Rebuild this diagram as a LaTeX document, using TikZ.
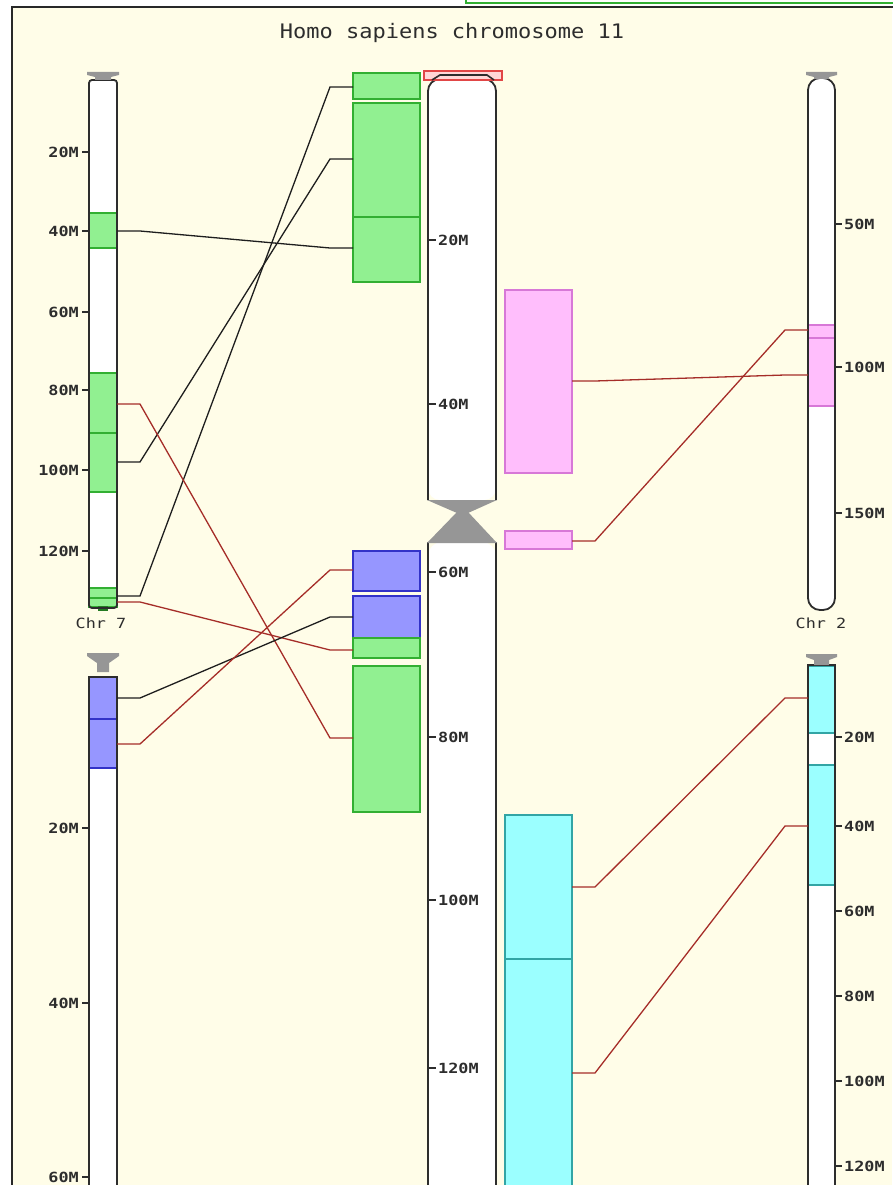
\documentclass[tikz,border=0pt]{standalone}
\usepackage{fontspec}
\newfontfamily\titlefont[FakeStretch=1.1]{DejaVu Sans Mono}
\newfontfamily\tickfont[FakeStretch=1.2]{DejaVu Sans Mono Bold}
\newfontfamily\chrfont[FakeStretch=1.2]{DejaVu Sans Mono}
\usetikzlibrary{calc}

\definecolor{bg}{RGB}{255,253,232}
\definecolor{frame}{RGB}{40,40,40}
\definecolor{chrdark}{RGB}{45,45,45}
\definecolor{capgray}{RGB}{150,150,150}
\definecolor{gfill}{RGB}{145,240,145}
\definecolor{gline}{RGB}{50,175,50}
\definecolor{bfill}{RGB}{150,150,255}
\definecolor{bline}{RGB}{50,50,200}
\definecolor{pfill}{RGB}{255,190,252}
\definecolor{pline}{RGB}{215,120,215}
\definecolor{cfill}{RGB}{155,255,255}
\definecolor{cline}{RGB}{50,165,165}
\definecolor{linkred}{RGB}{165,45,40}
\definecolor{linkblack}{RGB}{30,30,30}
\definecolor{topred}{RGB}{225,70,70}
\definecolor{toppink}{RGB}{255,215,215}

\tikzset{
  chrom/.style={draw=none, fill=none, inner sep=0, outer sep=0, anchor=north west},
  chrline/.style={draw=chrdark, line width=1.8pt},
  band/.style={inner sep=0, outer sep=0, anchor=north west, line width=1.2pt},
  gband/.style={band, fill=gfill, draw=gline},
  bband/.style={band, fill=bfill, draw=bline},
  pband/.style={band, fill=pfill, draw=pline},
  cband/.style={band, fill=cfill, draw=cline},
  blacklink/.style={draw=linkblack, line width=1.3pt},
  redlink/.style={draw=linkred, line width=1.3pt},
  ticklbl/.style={font=\tickfont\fontsize{14}{16}\selectfont, text=chrdark, inner sep=0},
  chrlbl/.style={font=\chrfont\fontsize{14}{16}\selectfont, text=chrdark, inner sep=0},
  tickmark/.style={draw=chrdark, line width=1.2pt},
}

% block node from (x1,y1) to (x2,y2), y growing downwards
\newcommand\blk[6]{\node[#2, minimum width={#5-#3}, minimum height={#6-#4}] (#1) at (#3,#4) {};}
% connector: style, left node, y on it, right node, y on it
\newcommand\lnk[5]{%
  \coordinate (#2-#3) at (#2.east |- 0,#3);
  \coordinate (#4-#5) at (#4.west |- 0,#5);
  \draw[#1] (#2-#3) -- ++(23,0) -- ([xshift=-23pt]#4-#5) -- (#4-#5);}
% scale ticks: name, y, label
\newcommand\tickL[3]{\draw[tickmark] (82,#2) -- (89,#2);
  \node[ticklbl, anchor=east] (#1) at (79,#2) {#3};}
\newcommand\tickC[3]{\draw[tickmark] (429,#2) -- (436,#2);
  \node[ticklbl, anchor=west] (#1) at (438,#2) {#3};}
\newcommand\tickR[3]{\draw[tickmark] (835,#2) -- (842,#2);
  \node[ticklbl, anchor=west] (#1) at (844,#2) {#3};}

\begin{document}
\begin{tikzpicture}[x=1pt, y=-1pt]
\useasboundingbox (0,0) rectangle (892,1185);
\fill[white] (0,0) rectangle (892,1185);
\fill[bg] (12,7) rectangle (892,1186);
\draw[frame, line width=1.6pt] (12,1190) -- (12,7) -- (895,7);
\draw[gline, line width=1.2pt] (466,-2) -- (466,3) -- (895,3);

\node[font=\titlefont\fontsize{20}{24}\selectfont, text=chrdark, inner sep=0] (title) at (452,33) {Homo sapiens chromosome 11};

% ---------- chromosome 7, upper panel ----------
\node[chrom, minimum width=28, minimum height=528] (c7a) at (89,80) {};
\fill[white, rounded corners=3pt] (c7a.north west) rectangle (c7a.south east);
\blk{c7a1}{gband}{89}{213}{117}{248}
\blk{c7a2}{gband}{89}{373}{117}{433}
\blk{c7a3}{gband}{89}{433}{117}{492}
\blk{c7a4}{gband}{89}{588}{117}{598}
\blk{c7a5}{gband}{89}{598}{117}{607}
\fill[gline!70!black] (98,606) rectangle (108,611);
\draw[chrline, rounded corners=3pt] (c7a.north west) rectangle (c7a.south east);
\fill[capgray] (87,72) -- (119,72) -- (119,75) -- (111,77) -- (111,80) -- (95,80) -- (95,77) -- (87,75) -- cycle;
\tickL{t7a20}{152}{20M}
\tickL{t7a40}{231}{40M}
\tickL{t7a60}{312}{60M}
\tickL{t7a80}{390}{80M}
\tickL{t7a100}{470}{100M}
\tickL{t7a120}{551}{120M}
\node[chrlbl] (lab7) at (101,623) {Chr 7};

% ---------- chromosome 7, lower panel ----------
\node[chrom, minimum width=28, minimum height=520] (c7b) at (89,677) {};
\fill[white] (c7b.north west) rectangle (c7b.south east);
\blk{c7b1}{bband}{89}{677}{117}{719}
\blk{c7b2}{bband}{89}{719}{117}{768}
\draw[chrline] (c7b.north west) rectangle (c7b.south east);
\fill[capgray] (87,653) -- (119,653) -- (119,656) -- (109,663) -- (109,672) -- (97,672) -- (97,663) -- (87,656) -- cycle;
\tickL{t7b20}{828}{20M}
\tickL{t7b40}{1003}{40M}
\tickL{t7b60}{1177}{60M}

% ---------- chromosome 11 ----------
\fill[white, rounded corners=12pt] (428,500) -- (428,79) -- (496,79) -- (496,500) -- cycle;
\draw[chrline, rounded corners=12pt] (428,500) -- (428,79) -- (496,79) -- (496,500);
\fill[white, rounded corners=14pt] (428,542) -- (428,1198) -- (496,1198) -- (496,542) -- cycle;
\draw[chrline, rounded corners=14pt] (428,542) -- (428,1198) -- (496,1198) -- (496,542);
\fill[capgray] (427,500) -- (497,500) -- (468,513) -- (457,513) -- cycle;
\fill[capgray] (457,512) -- (468,512) -- (497,543) -- (427,543) -- cycle;
\node[draw=topred, fill=toppink, line width=1.2pt, inner sep=0, outer sep=0, anchor=north west,
      minimum width=78, minimum height=9] (c11top) at (424,71) {};
\draw[chrdark, line width=1.6pt] (432,80) -- (440,75) -- (487,75) -- (494,80);
\tickC{t11a}{240}{20M}
\tickC{t11b}{404}{40M}
\tickC{t11c}{572}{60M}
\tickC{t11d}{737}{80M}
\tickC{t11e}{900}{100M}
\tickC{t11f}{1068}{120M}

% ---------- syntenic blocks on chromosome 11 ----------
\blk{bA}{gband}{353}{73}{420}{99}
\blk{bB1}{gband}{353}{103}{420}{217}
\blk{bB2}{gband}{353}{217}{420}{282}
\blk{bC}{bband}{353}{551}{420}{591}
\blk{bD1}{bband}{353}{596}{420}{638}
\blk{bD2}{gband}{353}{638}{420}{658}
\blk{bE}{gband}{353}{666}{420}{812}
\blk{bF}{pband}{505}{290}{572}{473}
\blk{bG}{pband}{505}{531}{572}{549}
\blk{bH1}{cband}{505}{815}{572}{959}
\blk{bH2}{cband}{505}{959}{572}{1192}

% ---------- chromosome 2, upper panel ----------
\node[chrom, minimum width=27, minimum height=532] (c2a) at (808,78) {};
\fill[white, rounded corners=12pt] (808,78) -- (808,610) -- (835,610) -- (835,78) -- cycle;
\blk{c2a1}{pband}{808}{325}{835}{338}
\blk{c2a2}{pband}{808}{338}{835}{406}
\draw[chrline, rounded corners=12pt] (808,78) -- (808,610) -- (835,610) -- (835,78) -- cycle;
\fill[capgray] (806,72) -- (837,72) -- (837,75) -- (829,77) -- (829,79) -- (814,79) -- (814,77) -- (806,75) -- cycle;
\tickR{t2a50}{224}{50M}
\tickR{t2a100}{367}{100M}
\tickR{t2a150}{513}{150M}
\node[chrlbl] (lab2) at (821,623) {Chr 2};

% ---------- chromosome 2, lower panel ----------
\node[chrom, minimum width=27, minimum height=530] (c2b) at (808,665) {};
\fill[white] (c2b.north west) rectangle (c2b.south east);
\blk{c2b1}{cband}{808}{666}{835}{733}
\blk{c2b2}{cband}{808}{765}{835}{885}
\draw[chrline] (c2b.north west) rectangle (c2b.south east);
\fill[capgray] (806,654) -- (837,654) -- (837,657) -- (829,660) -- (829,665) -- (814,665) -- (814,660) -- (806,657) -- cycle;
\tickR{t2b20}{737}{20M}
\tickR{t2b40}{826}{40M}
\tickR{t2b60}{911}{60M}
\tickR{t2b80}{996}{80M}
\tickR{t2b100}{1081}{100M}
\tickR{t2b120}{1166}{120M}

% ---------- connectors ----------
\lnk{blacklink}{c7a1}{231}{bB2}{248}
\lnk{blacklink}{c7a3}{462}{bB1}{159}
\lnk{blacklink}{c7a4}{596}{bA}{87}
\lnk{redlink}{c7a2}{404}{bE}{738}
\lnk{redlink}{c7a5}{602}{bD2}{650}
\lnk{blacklink}{c7b1}{698}{bD1}{617}
\lnk{redlink}{c7b2}{744}{bC}{570}
\lnk{redlink}{bF}{381}{c2a2}{375}
\lnk{redlink}{bG}{541}{c2a1}{330}
\lnk{redlink}{bH1}{887}{c2b1}{698}
\lnk{redlink}{bH2}{1073}{c2b2}{826}
\end{tikzpicture}
\end{document}
